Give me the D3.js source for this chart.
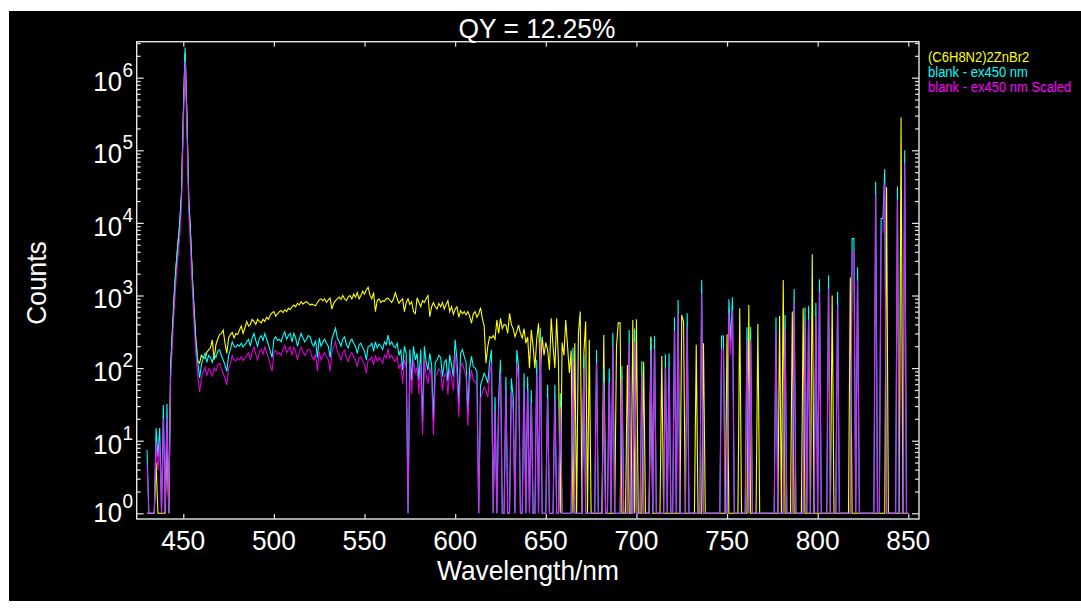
<!DOCTYPE html>
<html>
<head>
<meta charset="utf-8">
<script src="https://cdn.jsdelivr.net/npm/d3@7"></script>
<style>
  html, body { margin: 0; padding: 0; background: #fff; overflow: hidden; }
  svg { display: block; }
</style>
</head>
<body>
<svg id="chart" width="1081" height="610"></svg>
<script>
// Emission spectra, 1 nm steps starting at 430 nm
const wlStart = 430;
const wlStep = 1;

// (C6H8N2)2ZnBr2 sample
const sample = [
  1, 1, 1, 1, 1, 5, 1, 1, 1, 1,
  1, 10, 1, 100, 330, 1000, 2500, 5000, 9500, 25000,
  300000, 2200000, 300000, 22000, 7000, 1800, 600, 230, 125, 117,
  150, 140, 137, 165, 178, 190, 245, 130, 210, 250,
  290, 300, 335, 220, 160, 260, 290, 310, 260, 300,
  290, 335, 380, 300, 360, 437, 380, 400, 470, 440,
  400, 470, 440, 420, 470, 440, 500, 470, 540, 580,
  600, 520, 560, 600, 620, 580, 640, 600, 665, 640,
  700, 740, 700, 780, 740, 820, 760, 800, 820, 780,
  740, 760, 740, 720, 800, 870, 900, 850, 900, 800,
  870, 920, 650, 780, 850, 900, 950, 880, 1000, 900,
  850, 960, 1000, 900, 1050, 950, 1100, 900, 1000, 1150,
  1050, 1200, 1300, 1010, 900, 1100, 600, 850, 900, 800,
  850, 830, 900, 920, 860, 800, 900, 1090, 900, 780,
  850, 900, 600, 800, 900, 750, 820, 600, 560, 930,
  800, 700, 850, 800, 900, 1000, 510, 700, 800, 700,
  650, 780, 700, 800, 650, 750, 850, 600, 700, 550,
  650, 700, 500, 620, 560, 600, 540, 600, 520, 415,
  560, 600, 500, 560, 680, 480, 380, 117, 200, 270,
  260, 280, 250, 460, 300, 485, 350, 400, 390, 300,
  570, 400, 350, 270, 320, 390, 300, 260, 350, 220,
  270, 100, 335, 200, 100, 250, 415, 90, 270, 150,
  225, 180, 94, 485, 200, 100, 485, 120, 1, 225,
  150, 460, 200, 86, 175, 1, 220, 1, 300, 600,
  1, 160, 440, 1, 245, 1, 1, 1, 1, 1,
  1, 1, 285, 1, 1, 1, 1, 1, 1, 200,
  420, 420, 1, 1, 1, 110, 1, 1, 460, 1,
  470, 1, 1, 1, 122, 1, 1, 1, 270, 1,
  1, 1, 1, 1, 147, 1, 1, 1, 1, 1,
  1, 1, 1, 1, 1, 540, 435, 1, 1, 1,
  1, 1, 1, 210, 1, 1, 1, 220, 1, 1,
  1, 1, 1, 1, 1, 1, 1, 1, 1, 1,
  293, 1, 1, 1, 1, 1, 1, 665, 1, 1,
  1, 1, 740, 1, 1, 1, 1, 405, 1, 1,
  1, 1, 1, 1, 1, 1, 1, 1, 1, 520,
  1, 1630, 1, 1, 1, 1, 600, 1, 1, 1,
  1, 1, 665, 1, 1, 1, 1, 3700, 1, 1,
  1, 1, 1, 1, 1, 1, 1, 1, 1000, 1,
  1, 1, 1, 1, 1, 1, 1, 1, 1770, 1,
  1, 1, 1, 1, 1, 1, 1, 1, 1, 1,
  1, 1, 1, 1, 1, 1, 1, 1, 31000, 1,
  1, 1, 1, 1, 1, 1, 285000, 1, 1, 1,
  1
];

// blank - ex450 nm
const blank = [
  7.5, 1, 1, 1, 1, 15, 6, 15, 1, 31,
  1, 32, 1, 100, 330, 1000, 2500, 5000, 9500, 25000,
  300000, 2600000, 300000, 22000, 7000, 1800, 600, 230, 120, 73,
  110, 138, 160, 120, 150, 140, 120, 155, 140, 170,
  178, 150, 130, 110, 90, 150, 180, 230, 200, 195,
  210, 200, 220, 195, 210, 230, 250, 200, 260, 300,
  240, 200, 260, 280, 240, 300, 250, 210, 170, 140,
  250, 270, 240, 250, 230, 280, 316, 250, 280, 300,
  230, 300, 260, 200, 250, 300, 260, 230, 250, 280,
  270, 220, 200, 240, 140, 260, 200, 230, 250, 220,
  200, 140, 250, 300, 355, 260, 230, 200, 250, 270,
  210, 190, 230, 250, 220, 200, 160, 210, 220, 190,
  170, 130, 200, 200, 220, 170, 230, 190, 215, 200,
  180, 230, 210, 285, 210, 230, 200, 190, 220, 150,
  180, 94, 200, 160, 1, 180, 68, 200, 130, 160,
  68, 180, 18, 200, 120, 94, 160, 110, 19, 120,
  130, 150, 140, 76, 120, 130, 66, 152, 110, 76,
  245, 130, 33, 160, 180, 145, 120, 24, 100, 145,
  105, 100, 90, 1, 59, 70, 85, 75, 62, 120,
  178, 1, 40, 1, 40, 130, 1, 1, 76, 1,
  1, 72, 40, 1, 178, 105, 1, 1, 85, 1,
  76, 1, 50, 1, 1, 130, 1, 355, 1, 1,
  1, 59, 1, 1, 1, 59, 1, 1, 45, 1,
  1, 1, 1, 1, 1, 190, 1, 1, 1, 1,
  1, 152, 1, 1, 1, 1, 1, 1, 178, 1,
  1, 1, 99, 1, 1, 99, 1, 307, 1, 1,
  1, 1, 107, 1, 1, 1, 335, 1, 1, 350,
  1, 1, 1, 125, 1, 1, 1, 1, 270, 1,
  280, 1, 1, 1, 1, 1, 155, 1, 160, 1,
  1, 500, 1, 870, 1, 1, 1, 1, 570, 1,
  1, 1, 1, 1, 1, 1, 1630, 1, 1, 1,
  1, 1, 1, 1, 1, 1, 1, 277, 277, 1,
  1, 890, 230, 945, 1, 1, 1, 1, 1, 1,
  1, 365, 1, 370, 1, 1, 1, 1, 1, 1,
  1, 1, 1, 1, 1, 1, 1, 500, 1, 1,
  1, 1, 540, 1, 1, 1, 1, 1230, 1, 1,
  1, 1, 1, 690, 1, 720, 1, 1, 1, 790,
  1, 1670, 1, 1, 1, 1, 1900, 1, 1, 1,
  1, 1130, 1, 1, 1, 1, 1, 1, 1, 6100,
  6100, 1, 2450, 1, 1, 1, 1, 1, 1, 1,
  1, 1, 37000, 1, 1, 11500, 11500, 55000, 1, 1,
  1, 1, 1, 1, 32000, 1, 1, 1, 100000, 1,
  1
];

// blank - ex450 nm Scaled
const blankScaled = [
  4.9, 1, 1, 1, 1, 9.8, 3.9, 9.8, 1, 20,
  1, 21, 1, 65, 215, 650, 1630, 3250, 6200, 16300,
  195000, 1690000, 195000, 14300, 4550, 1170, 390, 150, 78, 47,
  72, 90, 104, 78, 98, 91, 78, 101, 91, 111,
  116, 98, 85, 72, 59, 98, 117, 150, 130, 127,
  137, 130, 143, 127, 137, 150, 163, 130, 169, 195,
  156, 130, 169, 182, 156, 195, 163, 137, 111, 91,
  163, 176, 156, 163, 150, 182, 205, 163, 182, 195,
  150, 195, 169, 130, 163, 195, 169, 150, 163, 182,
  176, 143, 130, 156, 91, 169, 130, 150, 163, 143,
  130, 91, 163, 195, 231, 169, 150, 130, 163, 176,
  137, 124, 150, 163, 143, 130, 104, 137, 143, 124,
  111, 85, 130, 130, 143, 111, 150, 124, 140, 130,
  117, 150, 137, 185, 137, 150, 130, 124, 143, 98,
  117, 61, 130, 104, 1, 117, 44, 130, 85, 104,
  44, 117, 12, 130, 78, 61, 104, 72, 12, 78,
  85, 98, 91, 49, 78, 85, 43, 99, 72, 49,
  159, 85, 21, 104, 117, 94, 78, 16, 65, 94,
  68, 65, 59, 1, 38, 46, 55, 49, 40, 78,
  116, 1, 26, 1, 26, 85, 1, 1, 49, 1,
  1, 47, 26, 1, 116, 68, 1, 1, 55, 1,
  49, 1, 33, 1, 1, 85, 1, 231, 1, 1,
  1, 38, 1, 1, 1, 38, 1, 1, 29, 1,
  1, 1, 1, 1, 1, 124, 1, 1, 1, 1,
  1, 99, 1, 1, 1, 1, 1, 1, 116, 1,
  1, 1, 64, 1, 1, 64, 1, 200, 1, 1,
  1, 1, 70, 1, 1, 1, 218, 1, 1, 228,
  1, 1, 1, 81, 1, 1, 1, 1, 176, 1,
  182, 1, 1, 1, 1, 1, 101, 1, 104, 1,
  1, 325, 1, 566, 1, 1, 1, 1, 371, 1,
  1, 1, 1, 1, 1, 1, 1060, 1, 1, 1,
  1, 1, 1, 1, 1, 1, 1, 180, 180, 1,
  1, 579, 150, 614, 1, 1, 1, 1, 1, 1,
  1, 237, 1, 241, 1, 1, 1, 1, 1, 1,
  1, 1, 1, 1, 1, 1, 1, 325, 1, 1,
  1, 1, 351, 1, 1, 1, 1, 800, 1, 1,
  1, 1, 1, 449, 1, 468, 1, 1, 1, 514,
  1, 1086, 1, 1, 1, 1, 1235, 1, 1, 1,
  1, 735, 1, 1, 1, 1, 1, 1, 1, 3965,
  3965, 1, 1593, 1, 1, 1, 1, 1, 1, 1,
  1, 1, 24000, 1, 1, 7475, 7475, 35750, 1, 1,
  1, 1, 1, 1, 20800, 1, 1, 1, 65000, 1,
  1
];

const seriesNames = ["(C6H8N2)2ZnBr2", "blank - ex450 nm", "blank - ex450 nm Scaled"];
const seriesColors = ["#ffff00", "#00ffff", "#ff00ff"];
const xTicks = [450, 500, 550, 600, 650, 700, 750, 800, 850];
const yDecades = [0, 1, 2, 3, 4, 5, 6];
const chartTitle = "QY = 12.25%";
const xTitle = "Wavelength/nm";
const yTitle = "Counts";

const FONT = "'Liberation Sans', Arial, sans-serif";
const AXIS = "#e6e6e6";
const plot = { left: 136.7, right: 919, top: 41.7, bottom: 519 };

const svg = d3.select("#chart");

// black panel
svg.append("rect")
  .attr("x", 9).attr("y", 11)
  .attr("width", 1072).attr("height", 590)
  .attr("fill", "#000");

const x = d3.scaleLinear()
  .domain([424.3, 855.9])
  .range([plot.left, plot.right]);

const y = d3.scaleLog()
  .domain([0.835, 3.13e6])
  .range([plot.bottom, plot.top]);

// narrow the glyphs a bit, the original uses a condensed face
function condense(sel, k) {
  sel.each(function () {
    const w = this.getComputedTextLength();
    d3.select(this)
      .attr("textLength", w * k)
      .attr("lengthAdjust", "spacingAndGlyphs");
  });
}

// spectra
svg.append("defs").append("clipPath")
  .attr("id", "plotClip")
  .append("rect")
  .attr("x", plot.left).attr("y", plot.top)
  .attr("width", plot.right - plot.left)
  .attr("height", plot.bottom - plot.top);

const line = d3.line()
  .x((d, i) => x(wlStart + i * wlStep))
  .y(d => y(d));

const lines = svg.append("g").attr("clip-path", "url(#plotClip)");
[sample, blank, blankScaled].forEach((series, k) => {
  lines.append("path")
    .datum(series)
    .attr("fill", "none")
    .attr("stroke", seriesColors[k])
    .attr("stroke-width", 1.1)
    .attr("stroke-linejoin", "miter")
    .attr("stroke-opacity", k === 2 ? 0.85 : 1)
    .attr("d", line);
});

// tick values
const majorY = yDecades.map(p => Math.pow(10, p));
const minorY = [];
yDecades.forEach(p => {
  for (let m = 2; m <= 9; m++) {
    const v = m * Math.pow(10, p);
    if (v <= y.domain()[1]) minorY.push(v);
  }
});

function styleAxis(g) {
  g.select(".domain").remove();
  g.selectAll("line").attr("stroke", AXIS).attr("stroke-width", 1.2);
  g.selectAll("text").remove();
}

// bottom and top ticks (inside)
svg.append("g")
  .attr("transform", `translate(0,${plot.bottom})`)
  .call(d3.axisBottom(x).tickValues(xTicks).tickSize(-5).tickSizeOuter(0))
  .call(styleAxis);
svg.append("g")
  .attr("transform", `translate(0,${plot.top})`)
  .call(d3.axisTop(x).tickValues(xTicks).tickSize(-5).tickSizeOuter(0))
  .call(styleAxis);

// left and right ticks (inside), major + minor
[[d3.axisLeft, plot.left], [d3.axisRight, plot.right]].forEach(([ax, px]) => {
  svg.append("g")
    .attr("transform", `translate(${px},0)`)
    .call(ax(y).tickValues(majorY).tickSize(-7).tickSizeOuter(0))
    .call(styleAxis);
  svg.append("g")
    .attr("transform", `translate(${px},0)`)
    .call(ax(y).tickValues(minorY).tickSize(-4).tickSizeOuter(0))
    .call(styleAxis);
});

// frame
svg.append("rect")
  .attr("x", plot.left).attr("y", plot.top)
  .attr("width", plot.right - plot.left)
  .attr("height", plot.bottom - plot.top)
  .attr("fill", "none")
  .attr("stroke", AXIS)
  .attr("stroke-width", 1.4);

// x tick labels
svg.append("g").selectAll("text")
  .data(xTicks)
  .join("text")
  .attr("x", d => x(d))
  .attr("y", 550)
  .attr("text-anchor", "middle")
  .attr("font-family", FONT)
  .attr("font-size", 28)
  .attr("fill", "#fff")
  .text(d => d)
  .call(condense, 0.94);

// y tick labels: 10 with a raised exponent
const yLab = svg.append("g");
yLab.selectAll("text.base")
  .data(yDecades)
  .join("text")
  .attr("class", "base")
  .attr("x", 122)
  .attr("y", d => Math.min(y(Math.pow(10, d)) + 13, 522))
  .attr("text-anchor", "end")
  .attr("font-family", FONT)
  .attr("font-size", 28)
  .attr("fill", "#fff")
  .text("10")
  .call(condense, 0.92);
yLab.selectAll("text.exp")
  .data(yDecades)
  .join("text")
  .attr("class", "exp")
  .attr("x", 122.5)
  .attr("y", d => Math.min(y(Math.pow(10, d)) + 13, 522) - 14)
  .attr("font-family", FONT)
  .attr("font-size", 20)
  .attr("fill", "#fff")
  .text(d => d)
  .call(condense, 0.95);

// titles
svg.append("text")
  .attr("x", 537).attr("y", 38)
  .attr("text-anchor", "middle")
  .attr("font-family", FONT)
  .attr("font-size", 28)
  .attr("fill", "#fff")
  .text(chartTitle)
  .call(condense, 0.94);

svg.append("text")
  .attr("x", 528).attr("y", 580)
  .attr("text-anchor", "middle")
  .attr("font-family", FONT)
  .attr("font-size", 28)
  .attr("fill", "#fff")
  .text(xTitle)
  .call(condense, 0.94);

svg.append("text")
  .attr("transform", "translate(46,283) rotate(-90)")
  .attr("text-anchor", "middle")
  .attr("font-family", FONT)
  .attr("font-size", 28)
  .attr("fill", "#fff")
  .text(yTitle)
  .call(condense, 0.94);

// legend
svg.append("g").selectAll("text")
  .data(seriesNames)
  .join("text")
  .attr("x", 928)
  .attr("y", (d, i) => 61.7 + i * 15)
  .attr("font-family", FONT)
  .attr("font-size", 14)
  .attr("fill", (d, i) => seriesColors[i])
  .text(d => d)
  .call(condense, 0.93);
</script>
</body>
</html>
